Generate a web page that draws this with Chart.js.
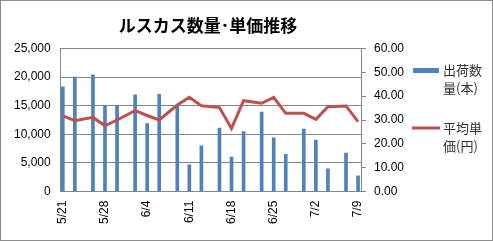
<!DOCTYPE html>
<html>
<head>
<meta charset="utf-8">
<script src="https://cdn.jsdelivr.net/npm/chart.js@4.4.0/dist/chart.umd.min.js"></script>
<style>
  html, body { margin: 0; padding: 0; background: #fff; }
  #wrap { width: 493px; height: 241px; position: relative; }
</style>
</head>
<body>
<div id="wrap"><canvas id="graf" width="493" height="241"></canvas></div>
<script>
// 出荷日 (月/日)
const hiduke = ['5/21','5/23','5/26','5/28','5/30','6/2','6/4','6/6','6/9','6/11','6/13',
                '6/16','6/18','6/20','6/23','6/25','6/27','6/30','7/2','7/4','7/7','7/9'];
// 出荷数量（本）
const suryo = [18300, 20000, 20400, 15000, 15000, 16900, 11900, 17000, 15000, 4700, 8000,
               11100, 6050, 10500, 13900, 9400, 6500, 10900, 9000, 4000, 6750, 2750];
// 平均単価（円）
const tanka = [31.7, 29.7, 31.1, 27.6, 30.0, 33.9, 31.9, 30.0, 36.3, 39.5, 36.0,
               35.2, 26.5, 38.1, 37.0, 39.5, 32.8, 32.8, 30.3, 35.6, 35.9, 29.3];
// 横軸の目盛ラベル
const tickLabels = ['5/21','5/28','6/4','6/11','6/18','6/25','7/2','7/9'];

const titulek = 'ルスカス数量･単価推移';
const jpFont = "'Noto Sans CJK JP', sans-serif";
const numFont = "'Liberation Sans', 'Noto Sans CJK JP', sans-serif";

// 日付 -> 5/21 からの日数
function denIndex(s) {
  const [m, d] = s.split('/').map(Number);
  const t0 = new Date(2018, 4, 21);
  const t = new Date(2018, m - 1, d);
  return Math.round((t - t0) / 86400000);
}

const barData = hiduke.map((h, i) => ({ x: denIndex(h), y: suryo[i] }));
const lineData = hiduke.map((h, i) => ({ x: denIndex(h), y: tanka[i] }));
const tickDays = tickLabels.map(denIndex);

// 枠と凡例
const ramecek = {
  id: 'ramecek',
  beforeDraw(chart) {
    const ctx = chart.ctx;
    ctx.save();
    ctx.fillStyle = '#fff';
    ctx.fillRect(0, 0, chart.width, chart.height);
    ctx.restore();
  },
  afterDraw(chart) {
    const ctx = chart.ctx;
    ctx.save();
    ctx.strokeStyle = '#8c8c8c';
    ctx.lineWidth = 1;
    ctx.strokeRect(0.5, 0.5, chart.width - 1, chart.height - 1);
    // 凡例
    ctx.fillStyle = '#4f81bd';
    ctx.fillRect(413, 68, 26, 5);
    ctx.strokeStyle = '#c0504d';
    ctx.lineWidth = 3;
    ctx.beginPath();
    ctx.moveTo(412, 128);
    ctx.lineTo(440, 128);
    ctx.stroke();
    ctx.fillStyle = '#333';
    ctx.font = '13px ' + jpFont;
    ctx.textBaseline = 'middle';
    ctx.fillText('出荷数', 443, 70);
    ctx.fillText('量(本)', 443, 88);
    ctx.fillText('平均単', 443, 128);
    ctx.fillText('価(円)', 443, 146);
    ctx.restore();
  }
};

new Chart(document.getElementById('graf').getContext('2d'), {
  data: {
    datasets: [
      {
        type: 'line',
        label: '平均単価(円)',
        data: lineData,
        yAxisID: 'y1',
        borderColor: '#c0504d',
        backgroundColor: '#c0504d',
        borderWidth: 3,
        pointRadius: 0,
        tension: 0,
        order: 1
      },
      {
        type: 'bar',
        label: '出荷数量(本)',
        data: barData,
        yAxisID: 'y',
        backgroundColor: '#4f81bd',
        barThickness: 3,
        order: 2
      }
    ]
  },
  options: {
    responsive: false,
    animation: false,
    layout: { padding: { left: 4, right: 81, top: 2, bottom: 16 } },
    plugins: {
      legend: { display: false },
      tooltip: { enabled: false },
      title: {
        display: true,
        text: titulek,
        color: '#000',
        font: { family: jpFont, size: 17, weight: 'bold' },
        padding: { top: 13, bottom: 13 }
      }
    },
    scales: {
      x: {
        type: 'linear',
        min: -0.35,
        max: 49.65,
        offset: false,
        afterBuildTicks(scale) {
          scale.ticks = tickDays.map(v => ({ value: v }));
        },
        ticks: {
          autoSkip: false,
          minRotation: 90,
          maxRotation: 90,
          padding: 1,
          color: '#000',
          font: { family: numFont, size: 12 },
          callback: (v) => tickLabels[tickDays.indexOf(v)]
        },
        grid: { display: false },
        border: { display: true, color: '#868686' }
      },
      y: {
        position: 'left',
        min: 0,
        max: 25000,
        ticks: {
          stepSize: 5000,
          padding: 10,
          color: '#000',
          font: { family: numFont, size: 12 },
          callback: v => v.toLocaleString('en-US')
        },
        grid: { color: '#868686', drawTicks: false },
        border: { display: true, color: '#868686' }
      },
      y1: {
        position: 'right',
        min: 0,
        max: 60,
        ticks: {
          stepSize: 10,
          padding: 8,
          color: '#000',
          font: { family: numFont, size: 12 },
          callback: v => v.toFixed(2)
        },
        grid: { drawOnChartArea: false, drawTicks: true, tickLength: 4, color: '#868686' },
        border: { display: true, color: '#868686' }
      }
    }
  },
  plugins: [ramecek]
});
</script>
</body>
</html>
